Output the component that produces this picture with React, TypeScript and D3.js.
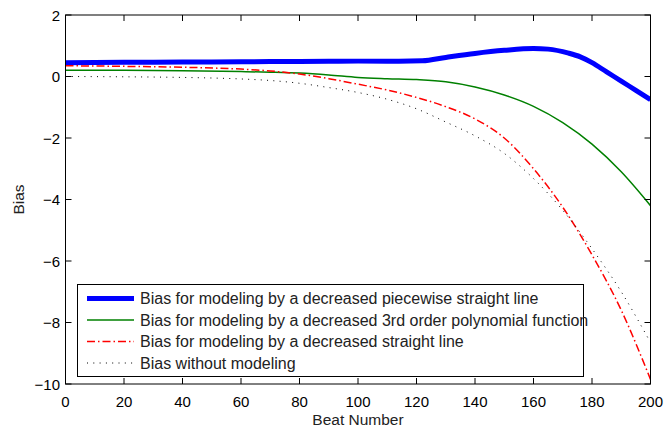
import React from "react";
import * as d3 from "d3";

const beats = [0, 20, 40, 60, 70, 80, 90, 100, 110, 114, 122, 130, 140, 150, 160, 165, 172, 176, 180, 185, 190, 195, 200];
const piecewise = [0.45, 0.46, 0.47, 0.48, 0.485, 0.49, 0.495, 0.5, 0.5, 0.5, 0.51, 0.62, 0.75, 0.85, 0.91, 0.89, 0.76, 0.64, 0.45, 0.15, -0.15, -0.45, -0.75];

const beatsB = [0, 20, 40, 60, 70, 80, 90, 100, 110, 120, 130, 140, 150, 160, 170, 180, 190, 200];
const poly3 = [0.2, 0.2, 0.19, 0.16, 0.14, 0.11, 0.05, -0.03, -0.07, -0.1, -0.17, -0.34, -0.6, -0.97, -1.5, -2.2, -3.1, -4.2];
const straight = [0.35, 0.33, 0.3, 0.24, 0.18, 0.08, -0.07, -0.25, -0.44, -0.68, -0.98, -1.38, -2.0, -3.0, -4.25, -5.8, -7.6, -9.85];
const noModel = [0, -0.01, -0.03, -0.08, -0.13, -0.22, -0.36, -0.52, -0.74, -1.05, -1.48, -1.93, -2.5, -3.32, -4.35, -5.6, -7.0, -8.65];

const xTicks = [0, 20, 40, 60, 80, 100, 120, 140, 160, 180, 200];
const yTicks = [2, 0, -2, -4, -6, -8, -10];

const legendLabels = [
  "Bias for modeling by a decreased piecewise straight line",
  "Bias for modeling by a decreased 3rd order polynomial function",
  "Bias for modeling by a decreased straight line",
  "Bias without modeling",
];

export default function App() {
  const W = 665, H = 428;
  const L = 65.5, R = 650.5, T = 15, B = 384;
  const x = d3.scaleLinear().domain([0, 200]).range([L, R]);
  const y = d3.scaleLinear().domain([-10, 2]).range([B, T]);
  const font = "'Liberation Sans', Arial, sans-serif";

  const mk = (xs: number[], ys: number[]) =>
    d3.line<number>().x((_, i) => x(xs[i])).y((d) => y(d)).curve(d3.curveMonotoneX)(ys) || "";

  const series = [
    { d: mk(beats, piecewise), color: "#0000ff", w: 5, dash: undefined as string | undefined },
    { d: mk(beatsB, poly3), color: "#008000", w: 1.5, dash: undefined },
    { d: mk(beatsB, straight), color: "#ff0000", w: 1.5, dash: "8,3,1.5,3" },
    { d: mk(beatsB, noModel), color: "#000000", w: 1, dash: "1,5.3" },
  ];

  const lg = { x: 77.5, y: 284.5, w: 506, h: 92 };
  const rowY = [298.5, 320, 341.5, 363];

  return (
    <svg width={W} height={H} style={{ position: "absolute", left: 0, top: 0 }}>
      <rect x={0} y={0} width={W} height={H} fill="#fff" />
      <defs>
        <clipPath id="clip">
          <rect x={L} y={T} width={R - L} height={B - T} />
        </clipPath>
      </defs>
      <g clipPath="url(#clip)">
        {series.map((s, i) => (
          <path key={i} d={s.d} fill="none" stroke={s.color} strokeWidth={s.w} strokeDasharray={s.dash} />
        ))}
      </g>
      <rect x={L} y={T} width={R - L} height={B - T} fill="none" stroke="#000" strokeWidth={1} />
      {xTicks.map((t) => (
        <g key={"x" + t}>
          <line x1={x(t)} x2={x(t)} y1={B} y2={B - 6} stroke="#000" />
          <line x1={x(t)} x2={x(t)} y1={T} y2={T + 6} stroke="#000" />
          <text x={x(t)} y={B + 22.5} textAnchor="middle" fontFamily={font} fontSize={15}>{t}</text>
        </g>
      ))}
      {yTicks.map((t) => (
        <g key={"y" + t}>
          <line x1={L} x2={L + 6} y1={y(t)} y2={y(t)} stroke="#000" />
          <line x1={R} x2={R - 6} y1={y(t)} y2={y(t)} stroke="#000" />
          <text x={L - 5.5} y={y(t) + 5.5} textAnchor="end" fontFamily={font} fontSize={15}>{t < 0 ? "\u2212" + Math.abs(t) : t}</text>
        </g>
      ))}
      <text x={(L + R) / 2} y={425} textAnchor="middle" fontFamily={font} fontSize={15.5} fill="#222">Beat Number</text>
      <text transform={`translate(24,${(T + B) / 2}) rotate(-90)`} textAnchor="middle" fontFamily={font} fontSize={15.5} fill="#222">Bias</text>
      <rect x={lg.x} y={lg.y} width={lg.w} height={lg.h} fill="#fff" stroke="#000" strokeWidth={1} />
      {series.map((s, i) => (
        <g key={"l" + i}>
          <line x1={87} x2={134} y1={rowY[i]} y2={rowY[i]} stroke={s.color} strokeWidth={s.w} strokeDasharray={s.dash} />
          <text x={140} y={rowY[i] + 5.5} fontFamily={font} fontSize={16} fill="#222">{legendLabels[i]}</text>
        </g>
      ))}
    </svg>
  );
}
